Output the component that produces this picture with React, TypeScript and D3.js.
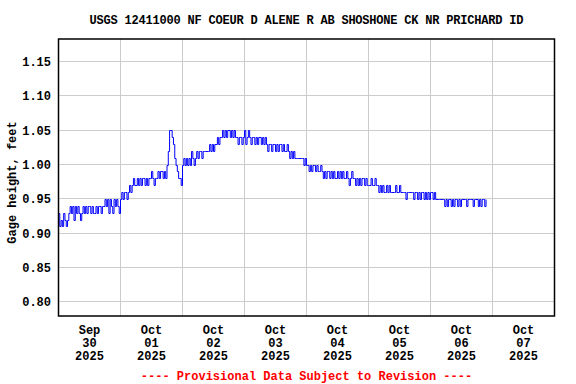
import React from "react";
import * as d3 from "d3";

const TITLE = "USGS 12411000 NF COEUR D ALENE R AB SHOSHONE CK NR PRICHARD ID";
const Y_LABEL = "Gage height, feet";
const FOOTER = "---- Provisional Data Subject to Revision ----";

const yTicks = [0.8, 0.85, 0.9, 0.95, 1.0, 1.05, 1.1, 1.15];
const dayDates = ["2025-09-30", "2025-10-01", "2025-10-02", "2025-10-03", "2025-10-04", "2025-10-05", "2025-10-06", "2025-10-07"];
const tickMonths = ["Sep", "Oct", "Oct", "Oct", "Oct", "Oct", "Oct", "Oct"];
const tickDays = ["30", "01", "02", "03", "04", "05", "06", "07"];
const tickYears = ["2025", "2025", "2025", "2025", "2025", "2025", "2025", "2025"];

const seriesStart = "2025-09-30T00:00:00Z";
const stepMinutes = 30;
// gage height in hundredths of a foot, every 30 minutes
const gageHundredths = [
  93, 91, 92, 91, 93, 92, 91, 92,
  93, 94, 93, 94, 92, 94, 93, 94, 93, 92, 93, 94, 93, 94, 93, 94,
  94, 93, 94, 93, 93, 94, 93, 94, 94, 93, 94,
  94, 95, 94, 95, 93, 95, 94, 93, 95, 94, 95, 94,
  93,
  95, 96, 95, 96, 96, 95,
  96, 97, 96, 97, 98, 97,
  97, 98, 97, 98, 97, 98, 98, 97,
  98, 97, 98, 98, 99, 98, 97, 98,
  98, 99, 98, 99, 99, 98, 99, 98,
  100, 102, 105, 105, 104, 103, 101, 100, 99,
  98, 98, 97,
  100,
  101, 100, 101, 100, 101,
  100, 102, 101, 100, 101,
  102, 101, 102, 102, 101, 102,
  102, 102, 102, 102, 103, 102,
  103, 102, 103, 103,
  104, 103, 104, 104,
  105, 104, 105, 104, 105, 105, 104, 105, 104, 105, 104,
  104, 103, 104, 104, 103,
  104, 105, 103, 104, 105,
  104, 103, 104, 104, 103, 104, 103, 104, 104, 103, 104, 103, 104,
  103, 102, 103, 103, 102, 103, 103, 102, 103, 102, 103, 103, 102, 103, 102, 102, 103,
  102, 101, 102, 101, 102, 101, 101,
  101, 101, 101, 101,
  101, 100, 101, 100,
  100, 99, 100, 99, 100, 100, 99, 100, 99, 99, 100,
  99, 98, 99, 98, 99, 99, 98, 99, 98, 99, 98, 98, 99, 98, 99, 98, 99, 98,
  98, 99, 98, 97, 98, 99, 98, 98, 97,
  98, 97, 98, 97, 98, 98, 97, 98, 97,
  97, 97, 98, 97, 97, 98, 97,
  97, 96, 97, 96, 97, 96, 96, 97, 96, 97, 96, 96,
  96, 96, 97, 96, 96, 97, 96, 96, 96,
  96, 95, 96, 96, 96, 96, 96, 95, 96,
  96, 95, 96, 95, 96, 96, 95, 96, 95, 96, 95, 96, 96, 95, 96, 95, 95,
  95, 95, 95, 95,
  95, 94, 95, 94, 95, 95, 94, 95, 94, 95, 95, 94, 95, 94, 95,
  95, 95, 95, 94, 95, 95, 95, 95, 94, 95, 95,
  95, 94, 95, 94, 95, 95, 94, 95,
];

const W = 576;
const H = 384;
const FONT = "'Liberation Mono', 'DejaVu Sans Mono', monospace";

export default function App() {
  const t0 = new Date(seriesStart).getTime();
  const data = gageHundredths.map((v, i) => ({
    t: new Date(t0 + i * stepMinutes * 60000),
    v: v / 100,
  }));

  const x = d3
    .scaleUtc()
    .domain([new Date("2025-09-30T00:00:00Z"), new Date("2025-10-08T00:00:00Z")])
    .range([58.5, 554.5]);
  const y = d3.scaleLinear().domain([0.7795, 1.183]).range([316, 39]);

  const line = d3
    .line<{ t: Date; v: number }>()
    .curve(d3.curveStepAfter)
    .x((d) => x(d.t))
    .y((d) => Math.round(y(d.v)) + 0.5);

  const left = x.range()[0];
  const right = x.range()[1];
  const top = y.range()[1];
  const bottom = y.range()[0];
  const cx = (left + right) / 2;

  return (
    <svg width={W} height={H} style={{ display: "block", position: "absolute", left: 0, top: 0 }}>
      <rect x={0} y={0} width={W} height={H} fill="#fff" />
      <text
        x={cx}
        y={24}
        textAnchor="middle"
        fontFamily={FONT}
        fontWeight="bold"
        fontSize={12}
        fill="#000"
        textLength={434}
        lengthAdjust="spacing"
      >
        {TITLE}
      </text>
      {/* grid */}
      {yTicks.map((v) => {
        const yy = Math.floor(y(v)) + 0.5;
        return <line key={"gy" + v} x1={left} x2={right} y1={yy} y2={yy} stroke="#cccccc" strokeWidth={1} />;
      })}
      {dayDates.slice(1).map((d) => {
        const xx = x(new Date(d + "T00:00:00Z"));
        return <line key={"gx" + d} x1={xx} x2={xx} y1={top} y2={bottom} stroke="#cccccc" strokeWidth={1} />;
      })}
      {/* data */}
      <path d={line(data) || ""} fill="none" stroke="#0000ff" strokeWidth={1} />
      {/* frame */}
      <rect x={left} y={top} width={right - left} height={bottom - top} fill="none" stroke="#000" strokeWidth={1.5} />
      {/* y tick labels */}
      {yTicks.map((v) => (
        <text key={"ty" + v} x={51} y={y(v) + 4.5} textAnchor="end" fontFamily={FONT} fontWeight="bold" fontSize={12} fill="#000">
          {v.toFixed(2)}
        </text>
      ))}
      <text
        transform={`translate(16,${(top + bottom) / 2 + 5}) rotate(-90)`}
        textAnchor="middle"
        fontFamily={FONT}
        fontWeight="bold"
        fontSize={12}
        fill="#000"
      >
        {Y_LABEL}
      </text>
      {/* x tick labels */}
      {dayDates.map((d, i) => {
        const xx = x(new Date(d + "T12:00:00Z"));
        return (
          <g key={"tx" + d} fontFamily={FONT} fontWeight="bold" fontSize={12} fill="#000" textAnchor="middle">
            <text x={xx} y={334}>{tickMonths[i]}</text>
            <text x={xx} y={347}>{tickDays[i]}</text>
            <text x={xx} y={360}>{tickYears[i]}</text>
          </g>
        );
      })}
      <text x={cx} y={380} textAnchor="middle" fontFamily={FONT} fontWeight="bold" fontSize={12} fill="#ff0000">
        {FOOTER}
      </text>
    </svg>
  );
}
